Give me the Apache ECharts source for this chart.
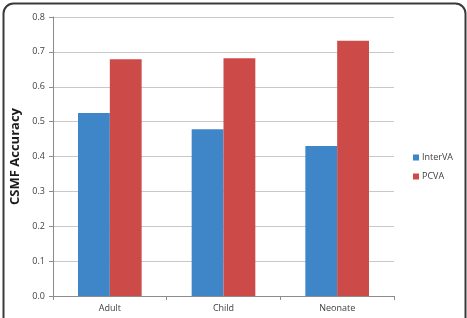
<!DOCTYPE html>
<html><head><meta charset="utf-8">
<script src="https://cdn.jsdelivr.net/npm/echarts@6/dist/echarts.min.js"></script>
<style>html,body{margin:0;padding:0;background:#fff}#c{width:467px;height:318px}</style>
</head><body><div id="c"></div>
<script>
const categories = ['Adult', 'Child', 'Neonate'];
const interVA = [0.525, 0.478, 0.430];
const pcva = [0.679, 0.682, 0.732];
const yTicks = [0, 0.8, 0.1];

const chart = echarts.init(document.getElementById('c'));
const font = 'Open Sans, Lato, sans-serif';
chart.setOption({
  animation: false,
  graphic: [{
    type: 'rect', left: 1, top: 1, silent: true,
    shape: { width: 462, height: 340, r: 10 },
    style: { fill: 'none', stroke: '#3a3a3a', lineWidth: 2 }
  }],
  grid: { left: 53, right: 73, top: 17, bottom: 22 },
  legend: {
    orient: 'vertical', left: 408, top: 148, itemWidth: 6, itemHeight: 6, itemGap: 10,
    icon: 'rect',
    textStyle: { fontFamily: font, fontSize: 9, color: '#404040', padding: [0, 0, 0, -2] },
    data: ['InterVA', 'PCVA']
  },
  xAxis: {
    type: 'category', data: categories,
    axisLine: { lineStyle: { color: '#8c8c8c' } },
    axisTick: { show: true, length: 4, lineStyle: { color: '#8c8c8c' } },
    axisLabel: { fontFamily: font, fontSize: 9, color: '#404040', margin: 8 }
  },
  yAxis: {
    type: 'value', min: yTicks[0], max: yTicks[1], interval: yTicks[2],
    name: 'CSMF Accuracy', nameLocation: 'middle', nameGap: 30,
    nameTextStyle: { fontFamily: font, fontSize: 13, fontWeight: 'bold', color: '#1a1a1a' },
    axisLine: { show: true, lineStyle: { color: '#8c8c8c' } },
    axisTick: { show: true, length: 4, lineStyle: { color: '#8c8c8c' } },
    axisLabel: { fontFamily: font, fontSize: 9, color: '#404040', margin: 8,
      formatter: v => v.toFixed(1) },
    splitLine: { lineStyle: { color: '#c8c8c8' } }
  },
  series: [
    { name: 'InterVA', type: 'bar', data: interVA, barGap: '0%', barCategoryGap: '44%',
      itemStyle: { color: '#3f86c8' } },
    { name: 'PCVA', type: 'bar', data: pcva, barGap: '0%', barCategoryGap: '44%',
      itemStyle: { color: '#cc4b48' } }
  ]
});
</script></body></html>
